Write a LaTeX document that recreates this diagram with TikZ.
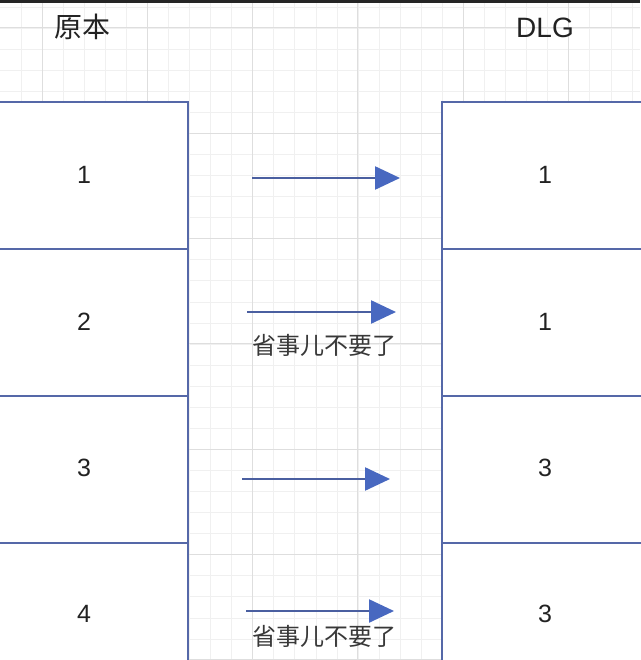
\documentclass[tikz,border=0pt]{standalone}
\usepackage{fontspec}
\setmainfont{Liberation Sans}
\newfontfamily\cjk{Noto Sans CJK SC}
\usetikzlibrary{arrows.meta}
\definecolor{boxline}{HTML}{5568A8}
\definecolor{arrline}{HTML}{4A5FA0}
\definecolor{arrfill}{HTML}{4868C0}
\definecolor{gridminor}{HTML}{F0F0F0}
\definecolor{gridmajor}{HTML}{DEDEDE}
\definecolor{txt}{HTML}{222222}
\tikzset{
  cell/.style={draw=boxline, line width=2pt, fill=white, minimum width=260pt, minimum height=147pt, inner sep=0pt},
  num/.style={font=\fontsize{25}{25}\selectfont, text=txt, inner sep=0pt},
  title/.style={font=\fontsize{28}{28}\selectfont, text=txt, inner sep=0pt},
  note/.style={font=\cjk\fontsize{24}{24}\selectfont, text=txt!90, inner sep=0pt},
  flow/.style={draw=arrline, line width=2.4pt, -{Triangle[length=25pt,width=23pt,fill=arrfill,color=arrfill]}, shorten >=0pt}
}
\begin{document}
\begin{tikzpicture}[x=1pt,y=1pt]
\useasboundingbox (0,0) rectangle (640,-660);
\fill[white] (0,0) rectangle (640,-660);
% grid
\foreach \i in {-1,...,31} {
  \draw[gridminor, line width=0.8pt] ({42+21.07*(\i)-21.07*1},0) -- ({42+21.07*(\i)-21.07*1},-660);
  \draw[gridminor, line width=0.8pt] (0,{-28-21.07*(\i)+21.07}) -- (640,{-28-21.07*(\i)+21.07});
}
\foreach \i in {-1,...,6} {
  \draw[gridmajor, line width=1pt] ({42+105.33*\i},0) -- ({42+105.33*\i},-660);
  \draw[gridmajor, line width=1pt] (0,{-28-105.33*\i}) -- (640,{-28-105.33*\i});
}
\fill[black!85] (0,0) rectangle (640,-3);
% titles
\node[title] (t1) at (82,-27) {\cjk 原本};
\node[title] (t2) at (545,-28) {DLG};
% left cells
\node[cell, anchor=north east] (l1) at (189,-101) {};
\node[cell, anchor=north east] (l2) at (189,-248) {};
\node[cell, anchor=north east] (l3) at (189,-395) {};
\node[cell, anchor=north east] (l4) at (189,-542) {};
% right cells
\node[cell, anchor=north west] (r1) at (441,-101) {};
\node[cell, anchor=north west] (r2) at (441,-248) {};
\node[cell, anchor=north west] (r3) at (441,-395) {};
\node[cell, anchor=north west] (r4) at (441,-542) {};
% labels
\node[num] (n1) at (84,-175) {1};
\node[num] (n2) at (84,-322) {2};
\node[num] (n3) at (84,-468) {3};
\node[num] (n4) at (84,-614) {4};
\node[num] (m1) at (545,-175) {1};
\node[num] (m2) at (545,-322) {1};
\node[num] (m3) at (545,-468) {3};
\node[num] (m4) at (545,-614) {3};
% arrows
\coordinate (a1s) at (252,-178); \coordinate (a1e) at (400,-178);
\coordinate (a2s) at (247,-312); \coordinate (a2e) at (396,-312);
\coordinate (a3s) at (242,-479); \coordinate (a3e) at (390,-479);
\coordinate (a4s) at (246,-611); \coordinate (a4e) at (394,-611);
\draw[flow] (a1s) -- (a1e);
\draw[flow] (a2s) -- (a2e);
\draw[flow] (a3s) -- (a3e);
\draw[flow] (a4s) -- (a4e);
\node[note] (k2) at (324,-345) {省事儿不要了};
\node[note] (k4) at (324,-636) {省事儿不要了};
\end{tikzpicture}
\end{document}
